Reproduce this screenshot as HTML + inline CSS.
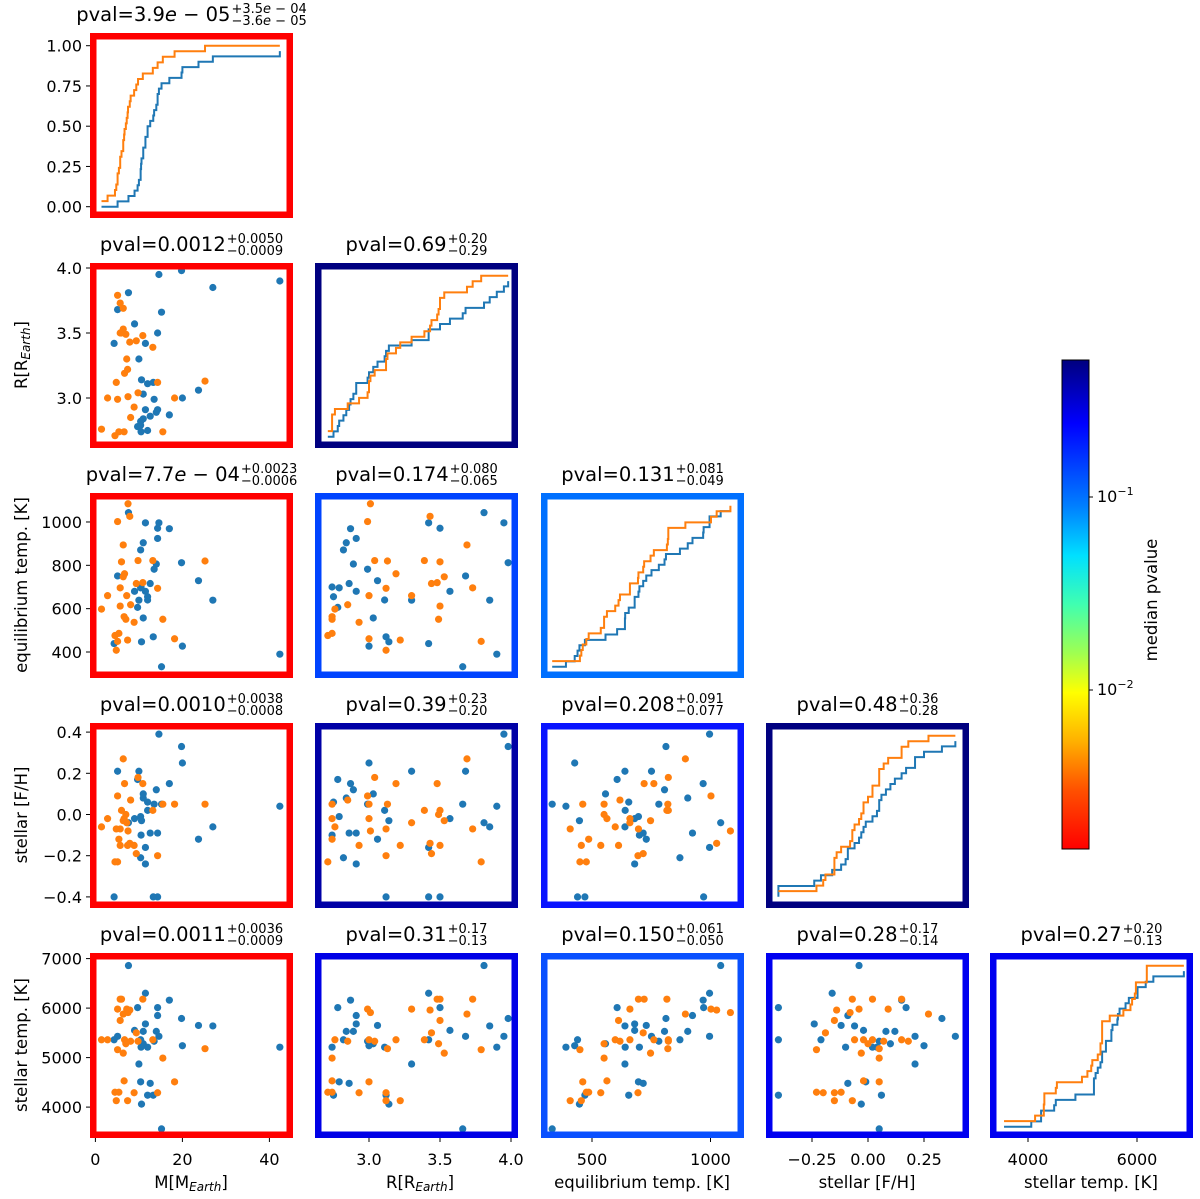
<!DOCTYPE html>
<html><head><meta charset="utf-8">
<style>
body{margin:0;background:#fff;}
#wrap{position:relative;width:1200px;height:1199px;overflow:hidden;font-family:"DejaVu Sans","Liberation Sans",sans-serif;}
svg{position:absolute;left:0;top:0;}
.title{position:absolute;width:340px;text-align:center;font-size:19.5px;line-height:22px;white-space:nowrap;color:#000;}
.stk{display:inline-block;font-size:13px;line-height:11.5px;vertical-align:middle;text-align:left;margin-left:1px;}
.stk span{display:block;}
.tick{font-size:16px;fill:#000;font-family:"DejaVu Sans",sans-serif;}
.lab{font-size:16.5px;fill:#000;font-family:"DejaVu Sans",sans-serif;}
</style></head>
<body>
<div id="wrap">
<svg id="plot" width="1200" height="1199"></svg>
</div>
<script>
// ---- data (per planet): Teff, M, R, Teq, FeH ----
const blueTeff=[6860,6300,6160,6010,6010,5850,5790,5680,5650,5640,5550,5530,5530,5430,5430,5360,5360,5330,5280,5240,5210,5210,5210,4870,4510,4480,4240,4240,4060,3560];
const blueM=[7.6,11.5,17,9.7,14.3,14.3,19.8,11.5,23.7,27,9,11,14,14.6,5.1,4.3,10.4,13.5,11,20,42.4,10.5,12,10,10.4,12.6,12,13.3,10.6,15.2];
const blueR=[3.81,3.42,2.87,2.78,3.50,2.91,3.98,2.91,3.06,3.85,3.57,2.84,2.89,3.95,3.68,3.42,2.82,2.99,3.03,3.00,3.90,2.74,3.11,3.30,2.79,2.86,2.75,3.12,3.14,3.66];
const blueTeq=[1043,996,969,606,971,924,812,680,729,639,680,904,806,996,751,439,871,782,557,427,390,700,640,639,696,716,655,470,447,332];
const blueFeH=[-0.04,-0.16,0.15,0.17,-0.40,-0.09,0.33,-0.24,-0.12,-0.06,-0.02,0.08,0.12,0.39,0.21,-0.40,-0.21,0.05,0.10,0.25,0.04,-0.10,0.02,0.21,-0.01,-0.09,0.06,-0.40,-0.03,0.05];
const orangeTeff=[6180,6180,6180,5980,5980,5960,5910,5880,5750,5500,5360,5360,5360,5330,5330,5360,5280,5160,5180,5090,4990,4530,4510,4300,4300,4290,4290,4130,4130];
const orangeM=[5.7,10.9,6.0,5.1,7.2,7.9,7.5,6.4,5.7,9.4,1.4,2.8,6.7,8.1,9.8,13.2,7.0,5.1,25.2,6.4,15.5,6.6,18.2,4.5,5.4,8.9,14.3,4.8,7.4];
const orangeR=[3.73,3.48,3.50,2.99,3.30,3.43,3.01,3.69,3.50,3.44,2.76,3.00,3.19,2.85,3.04,3.39,3.49,3.79,3.13,3.53,2.74,2.74,3.00,2.71,2.74,2.93,3.12,3.12,3.22];
const orangeTeq=[696,720,816,1002,660,1026,1084,894,612,716,598,660,761,618,822,822,551,449,820,747,551,563,461,476,486,537,694,408,455];
const orangeFeH=[-0.07,0.15,0.02,0.09,-0.04,-0.14,-0.08,0.27,-0.15,-0.19,-0.06,-0.02,0.15,0.07,0.18,0.02,0.00,-0.23,0.05,-0.03,0.05,-0.02,0.05,-0.23,-0.12,-0.15,-0.20,-0.07,-0.15];
const xTicks=[[0,20,40],[3.0,3.5,4.0],[500,1000],[-0.25,0,0.25],[4000,6000]];
const xTickLabels=[["0","20","40"],["3.0","3.5","4.0"],["500","1000"],["\u22120.25","0.00","0.25"],["4000","6000"]];
const yTicks=[[0,0.25,0.5,0.75,1],[3.0,3.5,4.0],[400,600,800,1000],[-0.4,-0.2,0,0.2,0.4],[4000,5000,6000,7000]];
const yTickLabels=[["0.00","0.25","0.50","0.75","1.00"],["3.0","3.5","4.0"],["400","600","800","1000"],["\u22120.4","\u22120.2","0.0","0.2","0.4"],["4000","5000","6000","7000"]];
const pvals=[["3.9<i>e</i> \u2212 05","+3.5<i>e</i> \u2212 04","\u22123.6<i>e</i> \u2212 05"],
 ["0.0012","+0.0050","\u22120.0009"],["0.69","+0.20","\u22120.29"],
 ["7.7<i>e</i> \u2212 04","+0.0023","\u22120.0006"],["0.174","+0.080","\u22120.065"],["0.131","+0.081","\u22120.049"],
 ["0.0010","+0.0038","\u22120.0008"],["0.39","+0.23","\u22120.20"],["0.208","+0.091","\u22120.077"],["0.48","+0.36","\u22120.28"],
 ["0.0011","+0.0036","\u22120.0009"],["0.31","+0.17","\u22120.13"],["0.150","+0.061","\u22120.050"],["0.28","+0.17","\u22120.14"],["0.27","+0.20","\u22120.13"]];
const frameColors=["#ff0000","#ff0000","#000080","#ff0000","#0044ff","#0070ff","#ff0000","#0000a6","#0a14ff","#000080","#ff0000","#0000e6","#0a50ff","#0000f0","#0000f0"];

const blue=[blueM,blueR,blueTeq,blueFeH,blueTeff];
const orange=[orangeM,orangeR,orangeTeq,orangeFeH,orangeTeff];
const colL=[90,315,541,766,990], W=203;
const rowT=[33,263,493,723,953], H=185;
const sx=[v=>95.4+v*4.35, v=>369+(v-3)*142, v=>592+(v-500)*0.237, v=>868+v*224, v=>1028+(v-4000)*0.0545];
const sy=[null, v=>398-(v-3)*130, v=>652-(v-400)*0.2167, v=>814.5-v*206, v=>958.6+(7000-v)*0.0495];
const cdfY=(r,c)=>rowT[r]+12.7+(1-c)*161;
const NS="http://www.w3.org/2000/svg";
const svg=document.getElementById('plot');
function el(tag,attrs,parent){const e=document.createElementNS(NS,tag);for(const k in attrs)e.setAttribute(k,attrs[k]);(parent||svg).appendChild(e);return e;}
const wrap=document.getElementById('wrap');
let k=0;
for(let r=0;r<5;r++){
 for(let c=0;c<=r;c++){
  const g=el('g',{});
  
  
  if(c===r){
   const all=blue[c].concat(orange[c]);
   const gmin=Math.min(...all), gmax=Math.max(...all);
   [[blue,'#1f77b4',0],[orange,'#ff7f0e',1]].forEach(([set,col,off])=>{
    const v=set[c].slice().sort((a,b)=>a-b);const n=v.length;
    let d='M'+sx[c](gmin)+','+cdfY(r,off/n);
    for(let i=1;i<n;i++){d+=' H'+sx[c](v[i])+' V'+cdfY(r,(i+off)/n);}
    d+=' H'+sx[c](gmax);
    const p=el('path',{d:d,fill:'none',stroke:col,'stroke-width':2},g);
    
    
   });
  } else {
   [[blue,'#1f77b4'],[orange,'#ff7f0e']].forEach(([set,col])=>{
    for(let i=0;i<set[0].length;i++){
     const pt=el('circle',{cx:sx[c](set[c][i]),cy:sy[r](set[r][i]),r:3.6,fill:col},g);
     
     
    }
   });
  }
  const fr=el('rect',{x:colL[c]+3.25,y:rowT[r]+3.25,width:W-6.5,height:H-6.5,fill:'none',stroke:frameColors[k],'stroke-width':6.5},g);
  
  
  const t=document.createElement('div');
  t.className='title';
  t.style.left=(colL[c]+W/2-170)+'px';t.style.top=(rowT[r]-29)+'px';
  t.innerHTML='pval='+pvals[k][0]+'<span class="stk"><span>'+pvals[k][1]+'</span><span>'+pvals[k][2]+'</span></span>';
  
  
  wrap.appendChild(t);
  k++;
 }
}
// x ticks bottom row
for(let c=0;c<5;c++){
 xTicks[c].forEach((v,i)=>{
  const x=sx[c](v);
  el('line',{x1:x,x2:x,y1:rowT[4]+H,y2:rowT[4]+H+4,stroke:'#000','stroke-width':1});
  const t=el('text',{x:x,y:1165,'text-anchor':'middle',class:'tick'});t.textContent=xTickLabels[c][i];
  
  
 });
}
// y ticks first column
for(let r=0;r<5;r++){
 yTicks[r].forEach((v,i)=>{
  const y=r===0?cdfY(0,v):sy[r](v);
  el('line',{x1:86,x2:90,y1:y,y2:y,stroke:'#000','stroke-width':1});
  const t=el('text',{x:82,y:y+6,'text-anchor':'end',class:'tick'});t.textContent=yTickLabels[r][i];
  
  
 });
}
// axis labels
const xl=[[191,'M[M','Earth',']'],[420,'R[R','Earth',']'],[642,'equilibrium temp. [K]'],[867,'stellar [F/H]'],[1091,'stellar temp. [K]']];
xl.forEach(a=>{
 const t=el('text',{x:a[0],y:1188,'text-anchor':'middle',class:'lab'});
 if(a.length>2){t.innerHTML=a[1]+'<tspan font-size="12" font-style="italic" dy="3">'+a[2]+'</tspan><tspan dy="-3">'+a[3]+'</tspan>';}
 else t.textContent=a[1];
 
 
});
const yl=[[355,'R[R','Earth',']'],[585,'equilibrium temp. [K]'],[815,'stellar [F/H]'],[1045,'stellar temp. [K]']];
yl.forEach(a=>{
 const t=el('text',{x:0,y:0,'text-anchor':'middle',class:'lab',transform:'translate(27,'+a[0]+') rotate(-90)'});
 if(a.length>2){t.innerHTML=a[1]+'<tspan font-size="12" font-style="italic" dy="3">'+a[2]+'</tspan><tspan dy="-3">'+a[3]+'</tspan>';}
 else t.textContent=a[1];
 
 
});
// colorbar
const defs=el('defs',{});
const lg=el('linearGradient',{id:'jet',x1:0,y1:0,x2:0,y2:1},defs);
[[0,'#00007f'],[0.13,'#0000ff'],[0.3,'#0080ff'],[0.4,'#00e0ff'],[0.5,'#40ffb0'],[0.6,'#a0ff50'],[0.68,'#ffff00'],[0.78,'#ffb000'],[0.88,'#ff5000'],[1,'#ff0000']].forEach(s=>el('stop',{offset:s[0],'stop-color':s[1]},lg));
const cb=el('rect',{x:1062,y:360,width:27,height:489,fill:'url(#jet)',stroke:'#000','stroke-width':1});


[[497,'-1'],[690,'-2']].forEach(a=>{
 el('line',{x1:1089,x2:1093,y1:a[0],y2:a[0],stroke:'#000'});
 const t=el('text',{x:1097,y:a[0]+5,class:'tick'});t.innerHTML='10<tspan font-size="11" dy="-7">\u2212'+a[1].slice(1)+'</tspan>';
 
 
});
const cbl=el('text',{x:0,y:0,'text-anchor':'middle',class:'lab',transform:'translate(1157,600) rotate(-90)'});
cbl.textContent='median pvalue';


</script>
</body></html>
